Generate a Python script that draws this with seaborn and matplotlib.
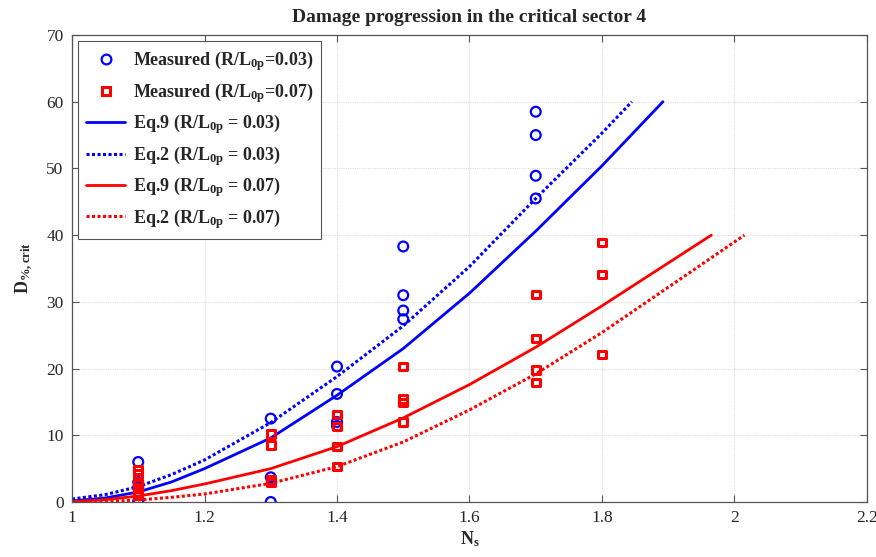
import matplotlib
matplotlib.use("Agg")
import matplotlib.pyplot as plt
import seaborn as sns
import pandas as pd
from matplotlib.lines import Line2D

# Measured damage, R/L0p = 0.03
ns_meas_003 = [1.1, 1.1, 1.1, 1.1, 1.3, 1.3, 1.3, 1.4, 1.4, 1.4, 1.4,
               1.5, 1.5, 1.5, 1.5, 1.7, 1.7, 1.7, 1.7]
d_meas_003 = [6.0, 3.0, 2.2, 0.0, 12.5, 3.7, 0.0, 20.3, 16.2, 12.0, 11.4,
              38.3, 31.0, 28.7, 27.4, 58.5, 55.0, 48.9, 45.5]

# Measured damage, R/L0p = 0.07
ns_meas_007 = [1.1, 1.1, 1.1, 1.1, 1.1, 1.1, 1.3, 1.3, 1.3, 1.3,
               1.4, 1.4, 1.4, 1.4, 1.5, 1.5, 1.5, 1.5,
               1.7, 1.7, 1.7, 1.7, 1.8, 1.8, 1.8]
d_meas_007 = [4.8, 4.2, 2.8, 2.2, 1.5, 1.0, 10.2, 8.5, 3.3, 2.9,
              13.1, 11.3, 8.3, 5.3, 20.3, 15.4, 14.9, 12.0,
              31.1, 24.5, 19.8, 17.9, 38.9, 34.1, 22.1]

# Predicted curves
ns_eq9_003 = [1.0, 1.05, 1.1, 1.15, 1.2, 1.3, 1.4, 1.5, 1.6, 1.7, 1.8, 1.892]
d_eq9_003 = [0.15, 0.6, 1.5, 3.0, 5.0, 9.6, 16.0, 23.0, 31.3, 40.6, 50.4, 60.0]

ns_eq2_003 = [1.0, 1.05, 1.1, 1.15, 1.2, 1.3, 1.4, 1.5, 1.6, 1.7, 1.8, 1.845]
d_eq2_003 = [0.45, 1.1, 2.3, 4.1, 6.3, 11.9, 18.8, 26.4, 35.3, 45.5, 55.3, 60.0]

ns_eq9_007 = [1.0, 1.05, 1.1, 1.15, 1.2, 1.3, 1.4, 1.5, 1.6, 1.7, 1.8, 1.965]
d_eq9_007 = [0.05, 0.35, 0.9, 1.7, 2.7, 5.0, 8.3, 12.6, 17.6, 23.2, 29.4, 40.0]

ns_eq2_007 = [1.0, 1.05, 1.1, 1.15, 1.2, 1.3, 1.4, 1.5, 1.6, 1.7, 1.8, 2.015]
d_eq2_007 = [0.0, 0.1, 0.3, 0.7, 1.2, 2.8, 5.3, 9.0, 13.8, 19.2, 25.4, 40.0]

x_ticks = [1, 1.2, 1.4, 1.6, 1.8, 2, 2.2]
x_tick_labels = ["1", "1.2", "1.4", "1.6", "1.8", "2", "2.2"]
y_ticks = [0, 10, 20, 30, 40, 50, 60, 70]

legend_labels = [
    r"Measured (R/L$_{0p}$=0.03)",
    r"Measured (R/L$_{0p}$=0.07)",
    r"Eq.9 (R/L$_{0p}$ = 0.03)",
    r"Eq.2 (R/L$_{0p}$ = 0.03)",
    r"Eq.9 (R/L$_{0p}$ = 0.07)",
    r"Eq.2 (R/L$_{0p}$ = 0.07)",
]

sns.set_style("ticks")
plt.rcParams["font.family"] = ["Liberation Serif", "DejaVu Serif"]
plt.rcParams["mathtext.fontset"] = "custom"
plt.rcParams["mathtext.rm"] = "Liberation Serif:bold"
plt.rcParams["mathtext.it"] = "Liberation Serif:bold"
plt.rcParams["mathtext.bf"] = "Liberation Serif:bold"

BLUE = (0, 0, 1)
RED = (1, 0, 0)
DOT = (0, (1.0, 0.8))

fig = plt.figure(figsize=(8.76, 5.57), dpi=100)
ax = fig.add_axes([72 / 876, 1 - 502 / 557, (867 - 72) / 876, (502 - 35) / 557])

ax.grid(True, color="#dcdcdc", linestyle=(0, (1, 1)), linewidth=0.8)
ax.set_axisbelow(True)

sns.lineplot(data=pd.DataFrame({"x": ns_eq9_003, "y": d_eq9_003}), x="x", y="y",
             ax=ax, color=BLUE, linewidth=2.0, sort=False)
sns.lineplot(data=pd.DataFrame({"x": ns_eq2_003, "y": d_eq2_003}), x="x", y="y",
             ax=ax, color=BLUE, linewidth=2.2, linestyle=DOT, sort=False)
sns.lineplot(data=pd.DataFrame({"x": ns_eq9_007, "y": d_eq9_007}), x="x", y="y",
             ax=ax, color=RED, linewidth=2.0, sort=False)
sns.lineplot(data=pd.DataFrame({"x": ns_eq2_007, "y": d_eq2_007}), x="x", y="y",
             ax=ax, color=RED, linewidth=2.2, linestyle=DOT, sort=False)

sns.scatterplot(x=ns_meas_003, y=d_meas_003, ax=ax, marker="o", s=50,
                facecolors="none", edgecolor=BLUE, linewidth=1.6, zorder=4)
sns.scatterplot(x=ns_meas_007, y=d_meas_007, ax=ax, marker="s", s=30,
                facecolors="none", edgecolor=RED, linewidth=2.2, zorder=4)

ax.set_xlim(1, 2.2)
ax.set_ylim(0, 70)
ax.set_xticks(x_ticks)
ax.set_xticklabels(x_tick_labels)
ax.set_yticks(y_ticks)
ax.tick_params(axis="both", direction="in", length=5, width=0.8, color="#555555",
               labelsize=12.5, top=True, right=True, pad=6)
for sp in ax.spines.values():
    sp.set_color("#555555")
    sp.set_linewidth(0.9)

ax.set_xlabel(r"N$_{\mathrm{s}}$", fontsize=13, fontweight="bold", labelpad=2)
ax.set_ylabel(r"D$_{\mathrm{\%,crit}}$", fontsize=13, fontweight="bold", labelpad=8)
ax.set_title("Damage progression in the critical sector 4", fontsize=14,
             fontweight="bold", pad=9)

handles = [
    Line2D([], [], linestyle="none", marker="o", markersize=7, markerfacecolor="none",
           markeredgecolor=BLUE, markeredgewidth=1.6),
    Line2D([], [], linestyle="none", marker="s", markersize=5.5, markerfacecolor="none",
           markeredgecolor=RED, markeredgewidth=2.2),
    Line2D([], [], color=BLUE, linewidth=2.0),
    Line2D([], [], color=BLUE, linewidth=2.2, linestyle=DOT),
    Line2D([], [], color=RED, linewidth=2.0),
    Line2D([], [], color=RED, linewidth=2.2, linestyle=DOT),
]
leg = ax.legend(handles, legend_labels, loc="upper left", bbox_to_anchor=(0.007, 0.987),
                fancybox=False, framealpha=1, edgecolor="#555555",
                prop={"weight": "bold", "size": 13}, handlelength=2.2,
                handletextpad=0.4, labelspacing=0.42, borderpad=0.45,
                borderaxespad=0)
leg.get_frame().set_linewidth(0.8)

fig.savefig("out.png", dpi=100)
